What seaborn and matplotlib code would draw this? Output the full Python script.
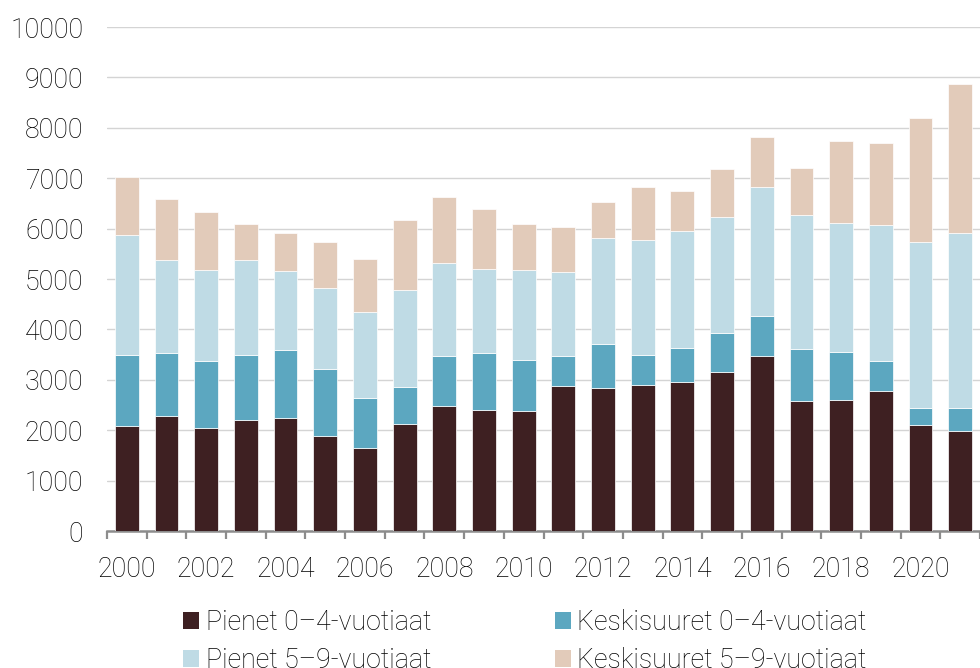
import numpy as np
import pandas as pd
import matplotlib
matplotlib.use("Agg")
import matplotlib.pyplot as plt
from matplotlib.patches import Patch
from matplotlib.ticker import MultipleLocator
import seaborn as sns

years = list(range(2000, 2022))
pienet_0_4 = [2080, 2275, 2045, 2200, 2240, 1880, 1640, 2120, 2475, 2400, 2380,
              2885, 2845, 2895, 2960, 3160, 3465, 2585, 2600, 2785, 2105, 1990]
keskisuuret_0_4 = [1420, 1250, 1325, 1300, 1345, 1330, 990, 730, 990, 1125, 1010,
                   585, 870, 595, 670, 770, 800, 1035, 950, 580, 335, 450]
pienet_5_9 = [2370, 1845, 1800, 1880, 1580, 1620, 1715, 1930, 1855, 1675, 1795,
              1675, 2100, 2285, 2320, 2305, 2560, 2645, 2560, 2700, 3285, 3480]
keskisuuret_5_9 = [1150, 1220, 1150, 720, 745, 900, 1045, 1390, 1310, 1190, 915,
                   885, 715, 1055, 795, 940, 1000, 930, 1630, 1635, 2475, 2940]

labels = ["Pienet 0–4-vuotiaat", "Keskisuuret 0–4-vuotiaat",
          "Pienet 5–9-vuotiaat", "Keskisuuret 5–9-vuotiaat"]
series = [pienet_0_4, keskisuuret_0_4, pienet_5_9, keskisuuret_5_9]
colors = ["#3e2022", "#5ca7c0", "#bfdbe5", "#e2cbba"]
palette = dict(zip(labels, colors))

df = pd.concat([pd.DataFrame({"year": years, "group": lab, "value": vals})
                for lab, vals in zip(labels, series)], ignore_index=True)

sns.set_theme(style="white")
plt.rcParams["font.family"] = ["Roboto", "DejaVu Sans"]
plt.rcParams["font.weight"] = "light"

FS = 19.3
TXT = "#000000"

fig = plt.figure(figsize=(9.8, 6.68), dpi=100)
ax = fig.add_axes([107 / 980, (668 - 531) / 668, 1 - 107 / 980, (531 - 27) / 668])

sns.histplot(data=df, x="year", weights="value", hue="group",
             hue_order=labels[::-1], palette=palette, multiple="stack",
             discrete=True, shrink=0.6, alpha=1, edgecolor="white",
             linewidth=0.5, legend=False, ax=ax, zorder=3)

ax.set_xlim(1999.5, 2021.3)
ax.set_ylim(0, 10000)
ax.yaxis.set_major_locator(MultipleLocator(1000))
ax.grid(axis="y", color="#d4d4d4", linewidth=1.0, zorder=0)
ax.grid(axis="x", visible=False)
ax.set_axisbelow(True)

ax.set_xticks(list(range(2000, 2021, 2)))
ax.set_xticks(np.arange(1999.5, 2022, 1.0), minor=True)
ax.tick_params(axis="x", which="major", length=0, pad=18, labelsize=FS,
               labelcolor=TXT)
ax.tick_params(axis="x", which="minor", length=6, width=1.6, color="#8c8c8c",
               direction="out", bottom=True)
ax.tick_params(axis="y", length=0, pad=17, labelsize=FS, labelcolor=TXT)
ax.set_xlabel("")
ax.set_ylabel("")

for s in ["top", "right", "left"]:
    ax.spines[s].set_visible(False)
ax.spines["bottom"].set_color("#8c8c8c")
ax.spines["bottom"].set_linewidth(1.8)

handles = [Patch(facecolor=c, edgecolor="none") for c in colors]
order = [0, 2, 1, 3]
leg = fig.legend([handles[i] for i in order], [labels[i] for i in order],
                 loc="upper left", bbox_to_anchor=(183 / 980, 1 - 609 / 668),
                 ncol=2, frameon=False, fontsize=FS, handlelength=0.6,
                 handleheight=0.6, handletextpad=0.25, columnspacing=4.6,
                 labelspacing=0.42, borderpad=0, borderaxespad=0)
for t in leg.get_texts():
    t.set_color(TXT)

fig.savefig("out.png", dpi=100)
